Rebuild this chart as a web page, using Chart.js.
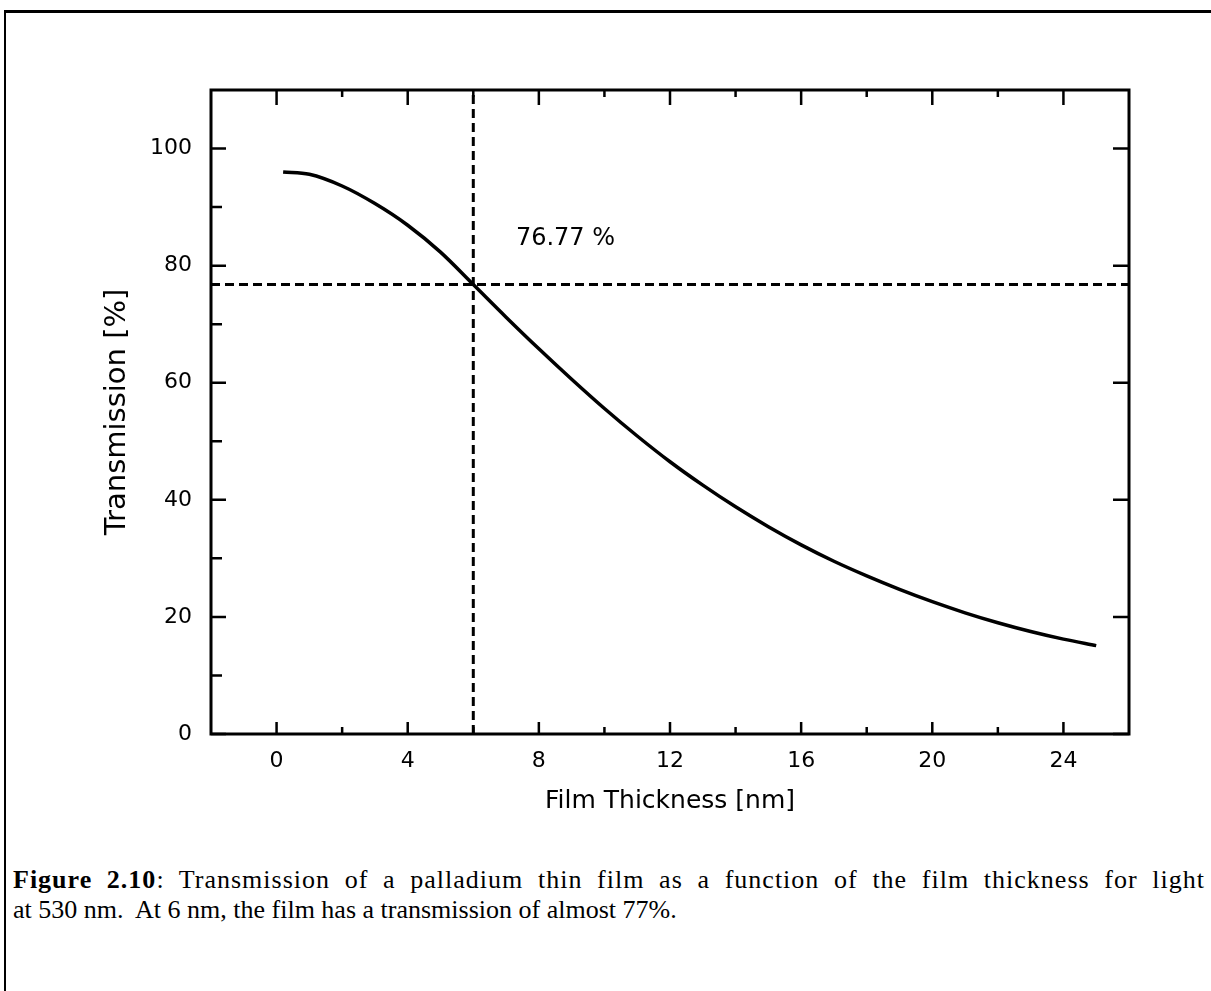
<!DOCTYPE html>
<html>
<head>
<meta charset="utf-8">
<script src="https://cdn.jsdelivr.net/npm/chart.js@4.4.0/dist/chart.umd.min.js"></script>
<style>
  html, body { margin: 0; padding: 0; background: #fff; }
  #page { position: relative; width: 1211px; height: 991px; overflow: hidden; }
  #page .top { position: absolute; left: 4px; top: 10px; width: 1207px; height: 3px; background: #000; }
  #page .left { position: absolute; left: 4px; top: 10px; width: 2px; height: 981px; background: #000; }
  #chart { position: absolute; left: 0; top: 0; }
  #caption {
    position: absolute; left: 13px; top: 865px; width: 1192px;
    font-family: "Liberation Serif", "Times New Roman", serif;
    font-size: 26px; line-height: 30px; color: #000;
  }
  #caption .l1 { text-align: justify; text-align-last: justify; letter-spacing: 1px; }
</style>
</head>
<body>
<div id="page">
  <div class="top"></div>
  <div class="left"></div>
  <canvas id="chart" width="1211" height="860"></canvas>
  <div id="caption">
    <div class="l1"><b>Figure 2.10</b>: Transmission of a palladium thin film as a function of the film thickness for light</div>
    <div>at 530 nm.&nbsp; At 6 nm, the film has a transmission of almost 77%.</div>
  </div>
</div>
<script>
// film thickness [nm] and transmission [%]
const thickness = [0.2, 1, 2, 3, 4, 5, 6, 7, 8, 9, 10, 11, 12, 13, 14, 15, 16, 17, 18, 19, 20, 21, 22, 23, 24, 25];
const transmission = [96.0, 95.6, 93.6, 90.6, 86.9, 82.3, 76.77, 71.2, 65.8, 60.6, 55.6, 50.9, 46.5, 42.5, 38.8, 35.4, 32.3, 29.5, 27.0, 24.7, 22.6, 20.7, 19.0, 17.5, 16.2, 15.1];

// marked point
const markX = 6;
const markY = 76.77;
const markLabel = '76.77 %';

const xMajor = [0, 4, 8, 12, 16, 20, 24];
const xMinor = [2, 6, 10, 14, 18, 22];
const yMajor = [0, 20, 40, 60, 80, 100];
const yMinor = [10, 30, 50, 70, 90];

const xMin = -2, xMax = 26, yMin = 0, yMax = 110;

const font = '"DejaVu Sans", "Liberation Sans", sans-serif';

// frame, inward ticks and the label next to the marked point
const frameTicks = {
  id: 'frameTicks',
  afterDatasetsDraw(chart) {
    const {ctx, chartArea: a, scales: {x, y}} = chart;
    ctx.save();
    ctx.strokeStyle = '#000';
    ctx.lineWidth = 3;
    ctx.strokeRect(a.left, a.top, a.right - a.left, a.bottom - a.top);

    ctx.lineWidth = 2.5;
    ctx.beginPath();
    xMajor.forEach(v => {
      const px = x.getPixelForValue(v);
      ctx.moveTo(px, a.bottom); ctx.lineTo(px, a.bottom - 12);
      ctx.moveTo(px, a.top); ctx.lineTo(px, a.top + 15);
    });
    xMinor.forEach(v => {
      const px = x.getPixelForValue(v);
      ctx.moveTo(px, a.bottom); ctx.lineTo(px, a.bottom - 7);
      ctx.moveTo(px, a.top); ctx.lineTo(px, a.top + 7);
    });
    yMajor.forEach(v => {
      const py = y.getPixelForValue(v);
      ctx.moveTo(a.left, py); ctx.lineTo(a.left + 15, py);
      ctx.moveTo(a.right, py); ctx.lineTo(a.right - 16, py);
    });
    yMinor.forEach(v => {
      const py = y.getPixelForValue(v);
      ctx.moveTo(a.left, py); ctx.lineTo(a.left + 11, py);
    });
    ctx.stroke();

    ctx.fillStyle = '#000';
    ctx.font = '24px ' + font;
    ctx.textAlign = 'left';
    ctx.textBaseline = 'middle';
    ctx.fillText(markLabel, x.getPixelForValue(7.3), y.getPixelForValue(84.6));
    ctx.restore();
  }
};

new Chart(document.getElementById('chart'), {
  type: 'scatter',
  data: {
    datasets: [
      {
        label: 'Transmission',
        data: thickness.map((t, i) => ({x: t, y: transmission[i]})),
        showLine: true,
        borderColor: '#000',
        borderWidth: 3.5,
        pointRadius: 0,
        cubicInterpolationMode: 'monotone'
      },
      {
        label: 'x mark',
        data: [{x: markX, y: yMin}, {x: markX, y: yMax}],
        showLine: true,
        borderColor: '#000',
        borderWidth: 3,
        borderDash: [9, 5],
        pointRadius: 0
      },
      {
        label: 'y mark',
        data: [{x: xMin, y: markY}, {x: xMax, y: markY}],
        showLine: true,
        borderColor: '#000',
        borderWidth: 3,
        borderDash: [9, 5],
        pointRadius: 0
      }
    ]
  },
  options: {
    responsive: false,
    animation: false,
    layout: { padding: { top: 90, right: 82, left: 0, bottom: 0 } },
    plugins: { legend: { display: false }, tooltip: { enabled: false } },
    scales: {
      x: {
        min: xMin, max: xMax,
        afterBuildTicks: s => { s.ticks = xMajor.map(v => ({value: v})); },
        afterFit: s => { s.height = 126; },
        grid: { display: false },
        border: { display: false },
        ticks: { color: '#000', font: { family: font, size: 22 }, padding: 6, maxRotation: 0 },
        title: {
          display: true,
          text: 'Film Thickness [nm]',
          color: '#000',
          font: { family: font, size: 25 },
          padding: { top: 0, bottom: 44 }
        }
      },
      y: {
        min: yMin, max: yMax,
        afterBuildTicks: s => { s.ticks = yMajor.map(v => ({value: v})); },
        afterFit: s => { s.width = 211; },
        grid: { display: false },
        border: { display: false },
        ticks: { color: '#000', font: { family: font, size: 22 }, padding: 11 },
        title: {
          display: true,
          text: 'Transmission [%]',
          color: '#000',
          font: { family: font, size: 29 },
          padding: { top: 100, bottom: 0 }
        }
      }
    }
  },
  plugins: [frameTicks]
});
</script>
</body>
</html>
